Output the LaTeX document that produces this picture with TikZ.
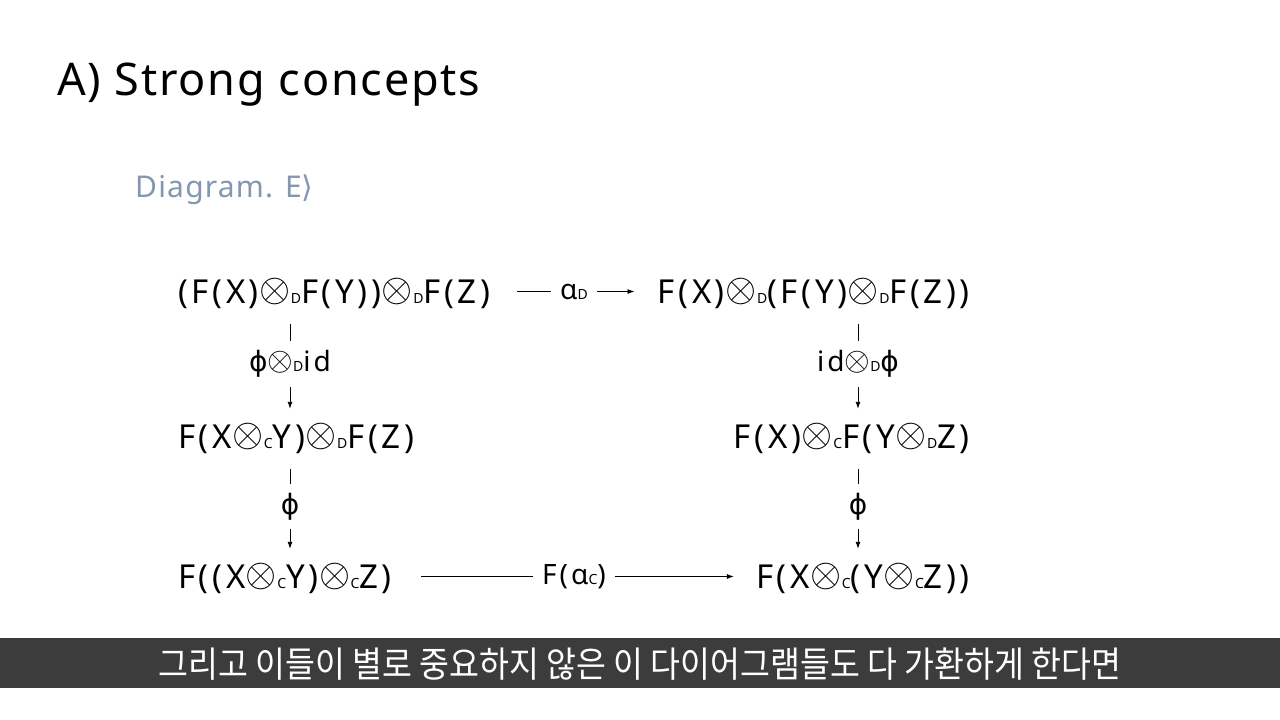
\documentclass[tikz,border=0pt]{standalone}
\usepackage{fontspec}
\usepackage{graphicx}
\usetikzlibrary{arrows.meta}
\setmainfont{Noto Sans}
\newfontfamily\dejavu{DejaVu Sans}
\newfontfamily\cjk{Noto Sans CJK KR}
\newfontfamily\spaced{Noto Sans}[LetterSpace=11]
\definecolor{slideblue}{HTML}{8497B0}
\definecolor{barbg}{HTML}{3C3C3C}
\newcommand{\tens}{\hspace{0.5pt}\raisebox{2pt}{\scalebox{4}{\fontsize{10}{10}\selectfont$\otimes$}}\hspace{0.5pt}}
\newcommand{\ltens}{\raisebox{1.5pt}{\scalebox{3.3}{\fontsize{10}{10}\selectfont$\otimes$}}}
\newcommand{\sbs}[1]{{\fontsize{14}{14}\selectfont #1}}
\newcommand{\phimap}{{\dejavu ϕ}}
\begin{document}
\begin{tikzpicture}[
	x=1pt, y=-1pt,
	objnode/.style={inner sep=0pt, text height=23pt, text depth=0pt, font=\spaced\fontsize{33}{33}\selectfont},
	maplabel/.style={fill=white, inner sep=9pt, font=\spaced\fontsize{28}{28}\selectfont},
	maparrow/.style={line width=0.9pt, -{Latex[length=7pt,width=5pt]}},
]
\useasboundingbox (0,0) rectangle (1280,720);
\node[anchor=base west, inner sep=0pt, font=\fontsize{45}{45}\selectfont\addfontfeature{LetterSpace=4}] (title) at (57,95) {A) Strong concepts};
\node[anchor=base west, inner sep=0pt, text=slideblue, font=\fontsize{30}{30}\selectfont\addfontfeature{LetterSpace=4}] (heading) at (135,197) {Diagram. E{\dejavu ⟩}};

\node[objnode, anchor=base west] (tl) at (178,303) {(F(X)\tens\sbs{D}F(Y))\tens\sbs{D}F(Z)};
\node[objnode, anchor=base east] (tr) at (970,303) {F(X)\tens\sbs{D}(F(Y)\tens\sbs{D}F(Z))};
\node[objnode, anchor=base west] (ml) at (178,448) {F(X\tens\sbs{C}Y)\tens\sbs{D}F(Z)};
\node[objnode, anchor=base east] (mr) at (970,448) {F(X)\tens\sbs{C}F(Y\tens\sbs{D}Z)};
\node[objnode, anchor=base west] (bl) at (178,588) {F((X\tens\sbs{C}Y)\tens\sbs{C}Z)};
\node[objnode, anchor=base east] (br) at (970,588) {F(X\tens\sbs{C}(Y\tens\sbs{C}Z))};
\coordinate (lx) at (290,0);
\coordinate (rx) at (858,0);

\draw[maparrow, shorten <=27pt, shorten >=23pt] (tl.east) -- node[maplabel] {α\sbs{D}} (tr.west);
\draw[maparrow, shorten <=21pt, shorten >=16pt] (tl.south -| lx) -- node[maplabel] {\phimap\ltens\sbs{D}id} (ml.north -| lx);
\draw[maparrow, shorten <=21pt, shorten >=16pt] (ml.south -| lx) -- node[maplabel] {\phimap} (bl.north -| lx);
\draw[maparrow, shorten <=21pt, shorten >=16pt] (tr.south -| rx) -- node[maplabel] {id\ltens\sbs{D}\phimap} (mr.north -| rx);
\draw[maparrow, shorten <=21pt, shorten >=16pt] (mr.south -| rx) -- node[maplabel] {\phimap} (br.north -| rx);
\draw[maparrow, shorten <=29pt, shorten >=22pt] (bl.east) -- node[maplabel] {F(α\sbs{C})} (br.west);

\fill[barbg] (0,638) rectangle (1280,688);
\node[text=white, font=\cjk\fontsize{32.5}{32.5}\selectfont] (caption) at (640,664) {\scalebox{1}[1.1]{그리고 이들이 별로 중요하지 않은 이 다이어그램들도 다 가환하게 한다면}};
\end{tikzpicture}
\end{document}
